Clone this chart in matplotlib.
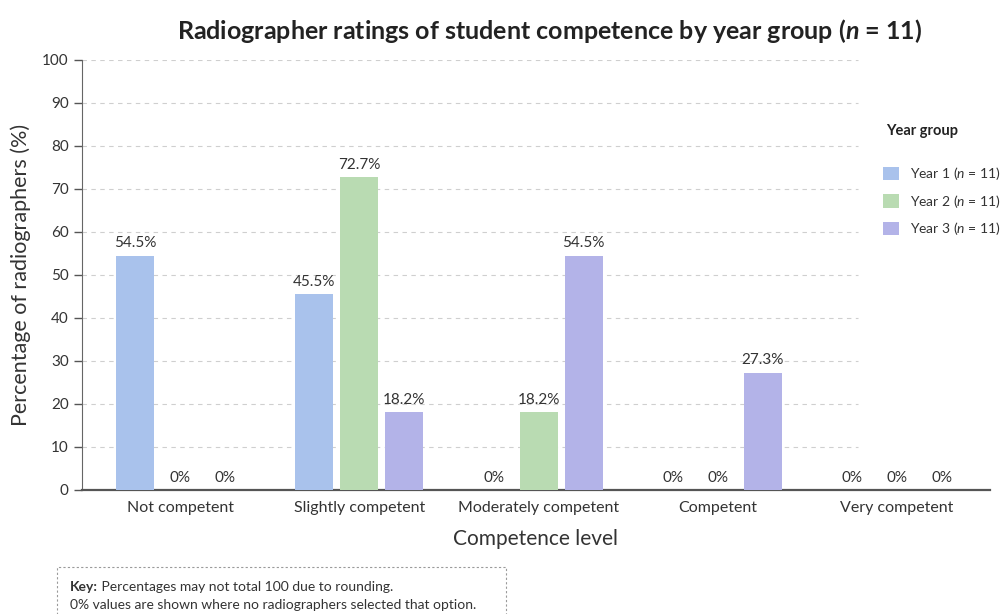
import numpy as np
import matplotlib
matplotlib.use("Agg")
import matplotlib.pyplot as plt
from matplotlib.patches import Rectangle

plt.rcParams["font.family"] = ["Lato", "DejaVu Sans"]
plt.rcParams["mathtext.fontset"] = "custom"
plt.rcParams["mathtext.rm"] = "Lato"
plt.rcParams["mathtext.it"] = "Lato:italic"
plt.rcParams["mathtext.bf"] = "Lato:bold"
plt.rcParams["mathtext.bfit"] = "Lato:italic:bold"

categories = ["Not competent", "Slightly competent", "Moderately competent",
              "Competent", "Very competent"]
year1 = [54.5, 45.5, 0, 0, 0]
year2 = [0, 72.7, 18.2, 0, 0]
year3 = [0, 18.2, 54.5, 27.3, 0]
series_names = ["Year 1 ($n$ = 11)", "Year 2 ($n$ = 11)", "Year 3 ($n$ = 11)"]
colors = ["#a9c2ec", "#b9dbb2", "#b3b3e8"]
yticks = np.arange(0, 101, 10)

fig = plt.figure(figsize=(10.05, 6.14), dpi=100)
ax = fig.add_axes([0.0816, 0.202, 0.9034, 0.7003])

x = np.arange(len(categories))
step = 0.251
width = 0.212
text_c = "#333333"

for k, (vals, name, col) in enumerate(zip([year1, year2, year3], series_names, colors)):
    pos = x + (k - 1) * step
    ax.bar(pos, vals, width, color=col, label=name, zorder=3)
    for p, v in zip(pos, vals):
        lab = "0%" if v == 0 else f"{v:.1f}%"
        ax.text(p, v + 1.2, lab, ha="center", va="bottom", fontsize=11, color=text_c)

ax.set_xlim(-0.548, 4.519)
ax.set_ylim(0, 100)
ax.set_yticks(yticks)
ax.tick_params(axis="y", labelsize=11, colors="#555555", labelcolor=text_c, length=6, width=1)
ax.set_xticks(x)
ax.set_xticklabels(categories, fontsize=11.5, color=text_c)
ax.tick_params(axis="x", length=0, pad=8)

ax.hlines(yticks[1:], -0.548, 3.78, colors="#cfcfcf", linestyles=(0, (4, 4)), linewidth=0.8, zorder=1)

for s in ["top", "right"]:
    ax.spines[s].set_visible(False)
ax.spines["left"].set_color("#666666")
ax.spines["bottom"].set_color("#555555")
ax.spines["bottom"].set_linewidth(1.6)

ax.set_ylabel("Percentage of radiographers (%)", fontsize=15.5, color=text_c, labelpad=8)
ax.set_xlabel("Competence level", fontsize=15, color=text_c, labelpad=10)
fig.text(0.547, 0.950, r"Radiographer ratings of student competence by year group ($\mathbfit{n}$ = 11)",
         ha="center", va="center", fontsize=18, fontweight="bold", color="#222222")

fig.text(0.882, 0.786, "Year group", fontsize=10.5, fontweight="bold", color="#222222", va="center")
leg = ax.legend(loc="upper left", bbox_to_anchor=(0.872, 0.742), bbox_transform=fig.transFigure,
                frameon=False, fontsize=10, borderpad=0,
                handlelength=1.1, handleheight=1.1, labelspacing=0.75, handletextpad=0.8)
for t in leg.get_texts():
    t.set_color(text_c)

# key box at the bottom
fig.add_artist(Rectangle((0.057, -0.02), 0.446, 0.097, transform=fig.transFigure, fill=False,
                         edgecolor="#9a9a9a", linestyle=(0, (2, 2)), linewidth=0.8, clip_on=False))
k1 = fig.text(0.070, 0.044, "Key:", fontsize=10, fontweight="bold", color=text_c, va="center")
ax.annotate(" Percentages may not total 100 due to rounding.", xy=(1, 0.5), xycoords=k1,
            va="center", fontsize=10, color=text_c)
fig.text(0.070, 0.0147, "0% values are shown where no radiographers selected that option.",
         fontsize=10, color=text_c, va="center")

fig.savefig("out.png", dpi=100)
